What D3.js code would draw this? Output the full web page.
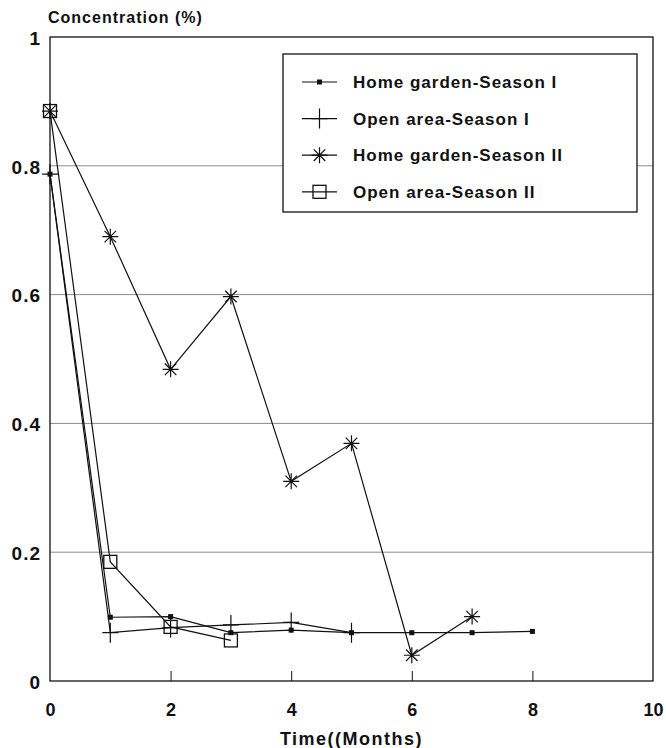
<!DOCTYPE html>
<html>
<head>
<meta charset="utf-8">
<script src="https://cdn.jsdelivr.net/npm/d3@7"></script>
<style>
  body { margin: 0; background: #fff; }
  text { font-family: "Liberation Sans", Arial, sans-serif; font-weight: bold; fill: #111; }
</style>
</head>
<body>
<svg id="chart"></svg>
<script>
const width = 666;
const height = 748;
const margin = {top: 37, right: 13, bottom: 67, left: 50};

// data
const months = [0, 1, 2, 3, 4, 5, 6, 7, 8];
const homeGardenS1 = [0.787, 0.099, 0.100, 0.075, 0.079, 0.075, 0.075, 0.075, 0.077];
const openAreaS1 = [0.787, 0.075, 0.083, 0.087, 0.091, 0.075];
const homeGardenS2 = [0.885, 0.69, 0.484, 0.597, 0.31, 0.369, 0.040, 0.100];
const openAreaS2 = [0.885, 0.185, 0.084, 0.063];

const xTicks = [0, 2, 4, 6, 8, 10];
const yTicks = [0, 0.2, 0.4, 0.6, 0.8, 1];

const series = [
  {name: 'Home garden-Season I', values: homeGardenS1, marker: 'dot'},
  {name: 'Open area-Season I', values: openAreaS1, marker: 'plus'},
  {name: 'Home garden-Season II', values: homeGardenS2, marker: 'star'},
  {name: 'Open area-Season II', values: openAreaS2, marker: 'square'}
];

const svg = d3.select('#chart')
            .attr('width', width)
            .attr('height', height);

const x = d3.scaleLinear().domain([0, 10]).range([margin.left, width - margin.right]);
const y = d3.scaleLinear().domain([0, 1]).range([height - margin.bottom, margin.top]);

// gridlines
svg.append('g')
   .selectAll('line')
   .data(yTicks.filter(d => d > 0 && d < 1))
   .join('line')
   .attr('x1', x(0)).attr('x2', x(10))
   .attr('y1', d => y(d)).attr('y2', d => y(d))
   .attr('stroke', '#8a8a8a')
   .attr('stroke-width', 1);

// frame
svg.append('rect')
   .attr('x', x(0)).attr('y', y(1))
   .attr('width', x(10) - x(0))
   .attr('height', y(0) - y(1))
   .attr('fill', 'none')
   .attr('stroke', '#111')
   .attr('stroke-width', 1.3);

// axes (ticks inside the frame)
const xAxis = svg.append('g')
   .attr('transform', `translate(0, ${y(0)})`)
   .call(d3.axisBottom(x).tickValues(xTicks).tickSizeInner(-10).tickSizeOuter(0).tickPadding(22).tickFormat(d3.format('d')));
xAxis.select('.domain').remove();
xAxis.selectAll('line').attr('stroke', '#111').filter(d => d === 0 || d === 10).remove();
xAxis.selectAll('text').attr('font-size', 18).attr('fill', '#111')
     .style('font-family', '"Liberation Sans", Arial, sans-serif').style('font-weight', 'bold');

const yAxis = svg.append('g')
   .attr('transform', `translate(${x(0)}, 0)`)
   .call(d3.axisLeft(y).tickValues(yTicks).tickSize(0).tickPadding(9).tickFormat(d => d === 0 || d === 1 ? d : d3.format('.1f')(d)));
yAxis.select('.domain').remove();
yAxis.selectAll('text').attr('font-size', 19).attr('fill', '#111').attr('dy', '0.38em')
     .style('letter-spacing', '1px')
     .style('font-family', '"Liberation Sans", Arial, sans-serif').style('font-weight', 'bold');

// axis titles
svg.append('text')
   .attr('x', 48).attr('y', 23)
   .attr('font-size', 16)
   .style('letter-spacing', '1px')
   .text('Concentration (%)');

svg.append('text')
   .attr('x', (x(0) + x(10)) / 2).attr('y', 745)
   .attr('text-anchor', 'middle')
   .attr('font-size', 18)
   .style('letter-spacing', '1.5px')
   .text('Time((Months)');

// marker shapes
function drawMarker(g, type) {
  if (type === 'dot') {
    g.append('rect').attr('x', -2.5).attr('y', -2.5).attr('width', 5).attr('height', 5).attr('fill', '#111');
  } else if (type === 'plus') {
    g.append('path').attr('d', 'M-8,0H8M0,-10V10').attr('stroke', '#111').attr('stroke-width', 1.2).attr('fill', 'none');
  } else if (type === 'star') {
    const r = 8, k = r * 0.72;
    g.append('path')
     .attr('d', `M${-r},0H${r}M0,${-r}V${r}M${-k},${-k}L${k},${k}M${-k},${k}L${k},${-k}`)
     .attr('stroke', '#111').attr('stroke-width', 1.2).attr('fill', 'none');
  } else if (type === 'square') {
    g.append('rect').attr('x', -6.5).attr('y', -6.5).attr('width', 13).attr('height', 13)
     .attr('fill', 'none').attr('stroke', '#111').attr('stroke-width', 1.3);
  }
}

const line = d3.line()
  .x((d, i) => x(months[i]))
  .y(d => y(d));

series.forEach(s => {
  svg.append('path')
     .datum(s.values)
     .attr('d', line)
     .attr('fill', 'none')
     .attr('stroke', '#111')
     .attr('stroke-width', 1.2);

  s.values.forEach((v, i) => {
    const g = svg.append('g').attr('transform', `translate(${x(months[i])}, ${y(v)})`);
    drawMarker(g, s.marker);
  });
});

// legend
const legend = svg.append('g');
legend.append('rect')
      .attr('x', 283).attr('y', 54)
      .attr('width', 354).attr('height', 158)
      .attr('fill', '#fff')
      .attr('stroke', '#111')
      .attr('stroke-width', 1.3);

series.forEach((s, i) => {
  const ly = 82 + i * 36.6;
  legend.append('line')
        .attr('x1', 302).attr('x2', 337)
        .attr('y1', ly).attr('y2', ly)
        .attr('stroke', '#111').attr('stroke-width', 1.2);
  drawMarker(legend.append('g').attr('transform', `translate(319.5, ${ly})`), s.marker);
  legend.append('text')
        .attr('x', 353).attr('y', ly + 6)
        .attr('font-size', 17)
        .style('letter-spacing', '1px')
        .text(s.name);
});
</script>
</body>
</html>
